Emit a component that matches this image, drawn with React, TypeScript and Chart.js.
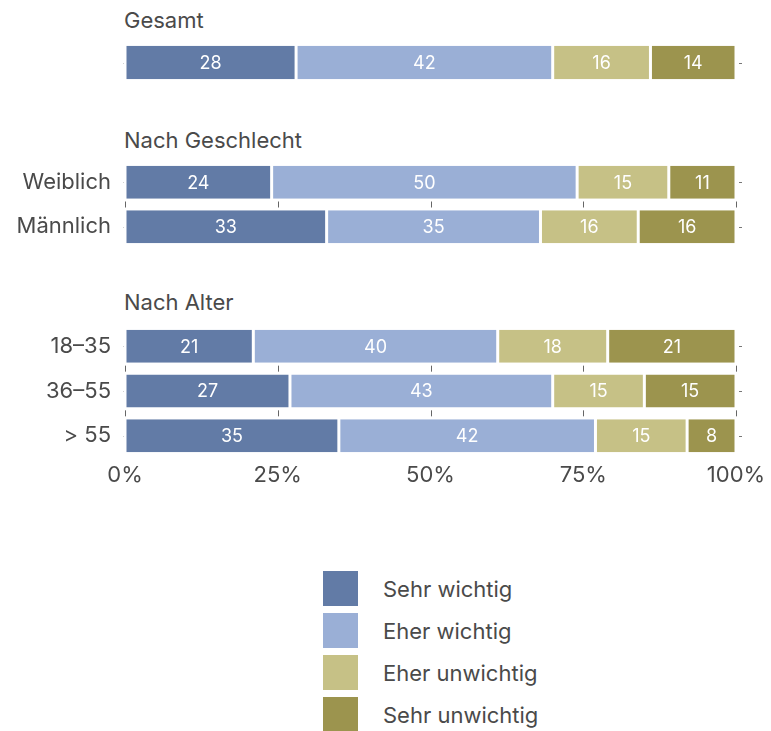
import React, { useEffect, useRef } from "react";
import { Chart, registerables } from "chart.js";

Chart.register(...registerables);

// ---- data ----
const seriesNames = ["Sehr wichtig", "Eher wichtig", "Eher unwichtig", "Sehr unwichtig"];
const seriesColors = ["#627ba6", "#9aafd6", "#c6c186", "#9c944e"];
const panelTitles = ["Gesamt", "Nach Geschlecht", "Nach Alter"];
const rowLabels = ["", "Weiblich", "Männlich", "18–35", "36–55", "> 55"];
const rowPanel = [0, 1, 1, 2, 2, 2];
const sehrWichtig = [28, 24, 33, 21, 27, 35];
const eherWichtig = [42, 50, 35, 40, 43, 42];
const eherUnwichtig = [16, 15, 16, 18, 15, 15];
const sehrUnwichtig = [14, 11, 16, 21, 15, 8];
const xTickValues = [0, 25, 50, 75, 100];

const FONT = "Inter, 'Noto Sans', sans-serif";
const TEXT = "#4a4a4a";

const marksPlugin = {
  id: "marks",
  afterDatasetsDraw(chart: any) {
    const ctx = chart.ctx;
    ctx.save();
    ctx.fillStyle = "#ffffff";
    ctx.font = `400 18px ${FONT}`;
    ctx.textAlign = "center";
    ctx.textBaseline = "middle";
    chart.data.datasets.forEach((ds: any, d: number) => {
      const meta = chart.getDatasetMeta(d);
      meta.data.forEach((el: any, j: number) => {
        const p = el.getCenterPoint();
        ctx.fillText(String(ds.data[j]), p.x, p.y + 1);
      });
    });
    ctx.restore();
  },
  afterDraw(chart: any) {
    const ctx = chart.ctx;
    const xs = chart.scales.x;
    const ys = chart.scales.y;
    const area = chart.chartArea;
    const n = chart.data.labels.length;
    ctx.save();
    ctx.lineWidth = 1;
    // small ticks between rows
    ctx.strokeStyle = "#666";
    for (let i = 0; i < n - 1; i++) {
      const y = (ys.getPixelForValue(i) + ys.getPixelForValue(i + 1)) / 2;
      xTickValues.forEach((v) => {
        const x = Math.round(xs.getPixelForValue(v)) + 0.5;
        ctx.beginPath();
        ctx.moveTo(x, y - 3);
        ctx.lineTo(x, y + 3);
        ctx.stroke();
      });
    }
    // right/left tiny marks at row centres
    for (let i = 0; i < n; i++) {
      const y = Math.round(ys.getPixelForValue(i)) + 0.5;
      ctx.strokeStyle = "#777";
      ctx.beginPath();
      ctx.moveTo(area.right + 3, y);
      ctx.lineTo(area.right + 6, y);
      ctx.stroke();
      ctx.strokeStyle = "#d0d0d0";
      ctx.beginPath();
      ctx.moveTo(area.left - 2, y);
      ctx.lineTo(area.left - 1, y);
      ctx.stroke();
    }
    ctx.restore();
  },
};

function Panel({ panel, top, height, showAxis }: { panel: number; top: number; height: number; showAxis: boolean }) {
  const ref = useRef<HTMLCanvasElement>(null);
  useEffect(() => {
    const idx = rowPanel.map((p, i) => (p === panel ? i : -1)).filter((i) => i >= 0);
    const labels = idx.map((i) => rowLabels[i]);
    const values = [sehrWichtig, eherWichtig, eherUnwichtig, sehrUnwichtig];
    const chart = new Chart(ref.current as HTMLCanvasElement, {
      type: "bar",
      data: {
        labels,
        datasets: values.map((v, k) => ({
          label: seriesNames[k],
          data: idx.map((i) => v[i]),
          backgroundColor: seriesColors[k],
          borderColor: "#ffffff",
          borderWidth: { left: 1.5, right: 1.5, top: 0, bottom: 0 },
          borderSkipped: false,
          barPercentage: 0.74,
          categoryPercentage: 1,
        })),
      },
      options: {
        indexAxis: "y",
        responsive: false,
        animation: false,
        layout: { padding: { left: 0, right: 35, top: 0, bottom: 0 } },
        plugins: { legend: { display: false }, tooltip: { enabled: false } },
        scales: {
          x: {
            stacked: true,
            min: 0,
            max: 100,
            display: showAxis,
            grid: { display: false, drawTicks: false },
            border: { display: false },
            afterBuildTicks: (s: any) => {
              s.ticks = xTickValues.map((v) => ({ value: v }));
            },
            afterFit: (s: any) => {
              s.height = showAxis ? 36 : 0;
            },
            ticks: {
              callback: (v: any) => v + "%",
              font: { family: FONT, size: 22 },
              color: TEXT,
              padding: 4,
              maxRotation: 0,
              autoSkip: false,
            },
          },
          y: {
            stacked: true,
            grid: { display: false, drawTicks: false },
            border: { display: false },
            afterFit: (s: any) => {
              s.width = 125;
              s.paddingTop = 0;
              s.paddingBottom = 0;
            },
            ticks: {
              font: { family: FONT, size: 22 },
              color: TEXT,
              padding: 14,
              autoSkip: false,
            },
          },
        },
      } as any,
      plugins: [marksPlugin],
    });
    return () => chart.destroy();
  }, [panel, showAxis]);
  return (
    <canvas
      ref={ref}
      width={771}
      height={height}
      style={{ position: "absolute", left: 0, top, width: 771, height, display: "block" }}
    />
  );
}

const headerTops = [7, 127, 289];
const legendTops = [571, 613, 655, 697];

export default function App() {
  return (
    <div style={{ position: "absolute", left: 0, top: 0, width: 771, height: 731, background: "#fff", fontFamily: FONT, color: TEXT }}>
      {panelTitles.map((t, i) => (
        <div key={t} style={{ position: "absolute", left: 124, top: headerTops[i], fontSize: 22, lineHeight: "26px", whiteSpace: "nowrap" }}>
          {t}
        </div>
      ))}
      <Panel panel={0} top={40} height={45} showAxis={false} />
      <Panel panel={1} top={160} height={89} showAxis={false} />
      <Panel panel={2} top={324} height={170} showAxis={true} />
      {seriesNames.map((n, i) => (
        <div key={n} style={{ position: "absolute", left: 323, top: legendTops[i], height: 35, display: "flex", alignItems: "center" }}>
          <div style={{ width: 35, height: 35, background: seriesColors[i] }} />
          <div style={{ marginLeft: 25, fontSize: 22, lineHeight: "26px", whiteSpace: "nowrap" }}>{n}</div>
        </div>
      ))}
    </div>
  );
}
